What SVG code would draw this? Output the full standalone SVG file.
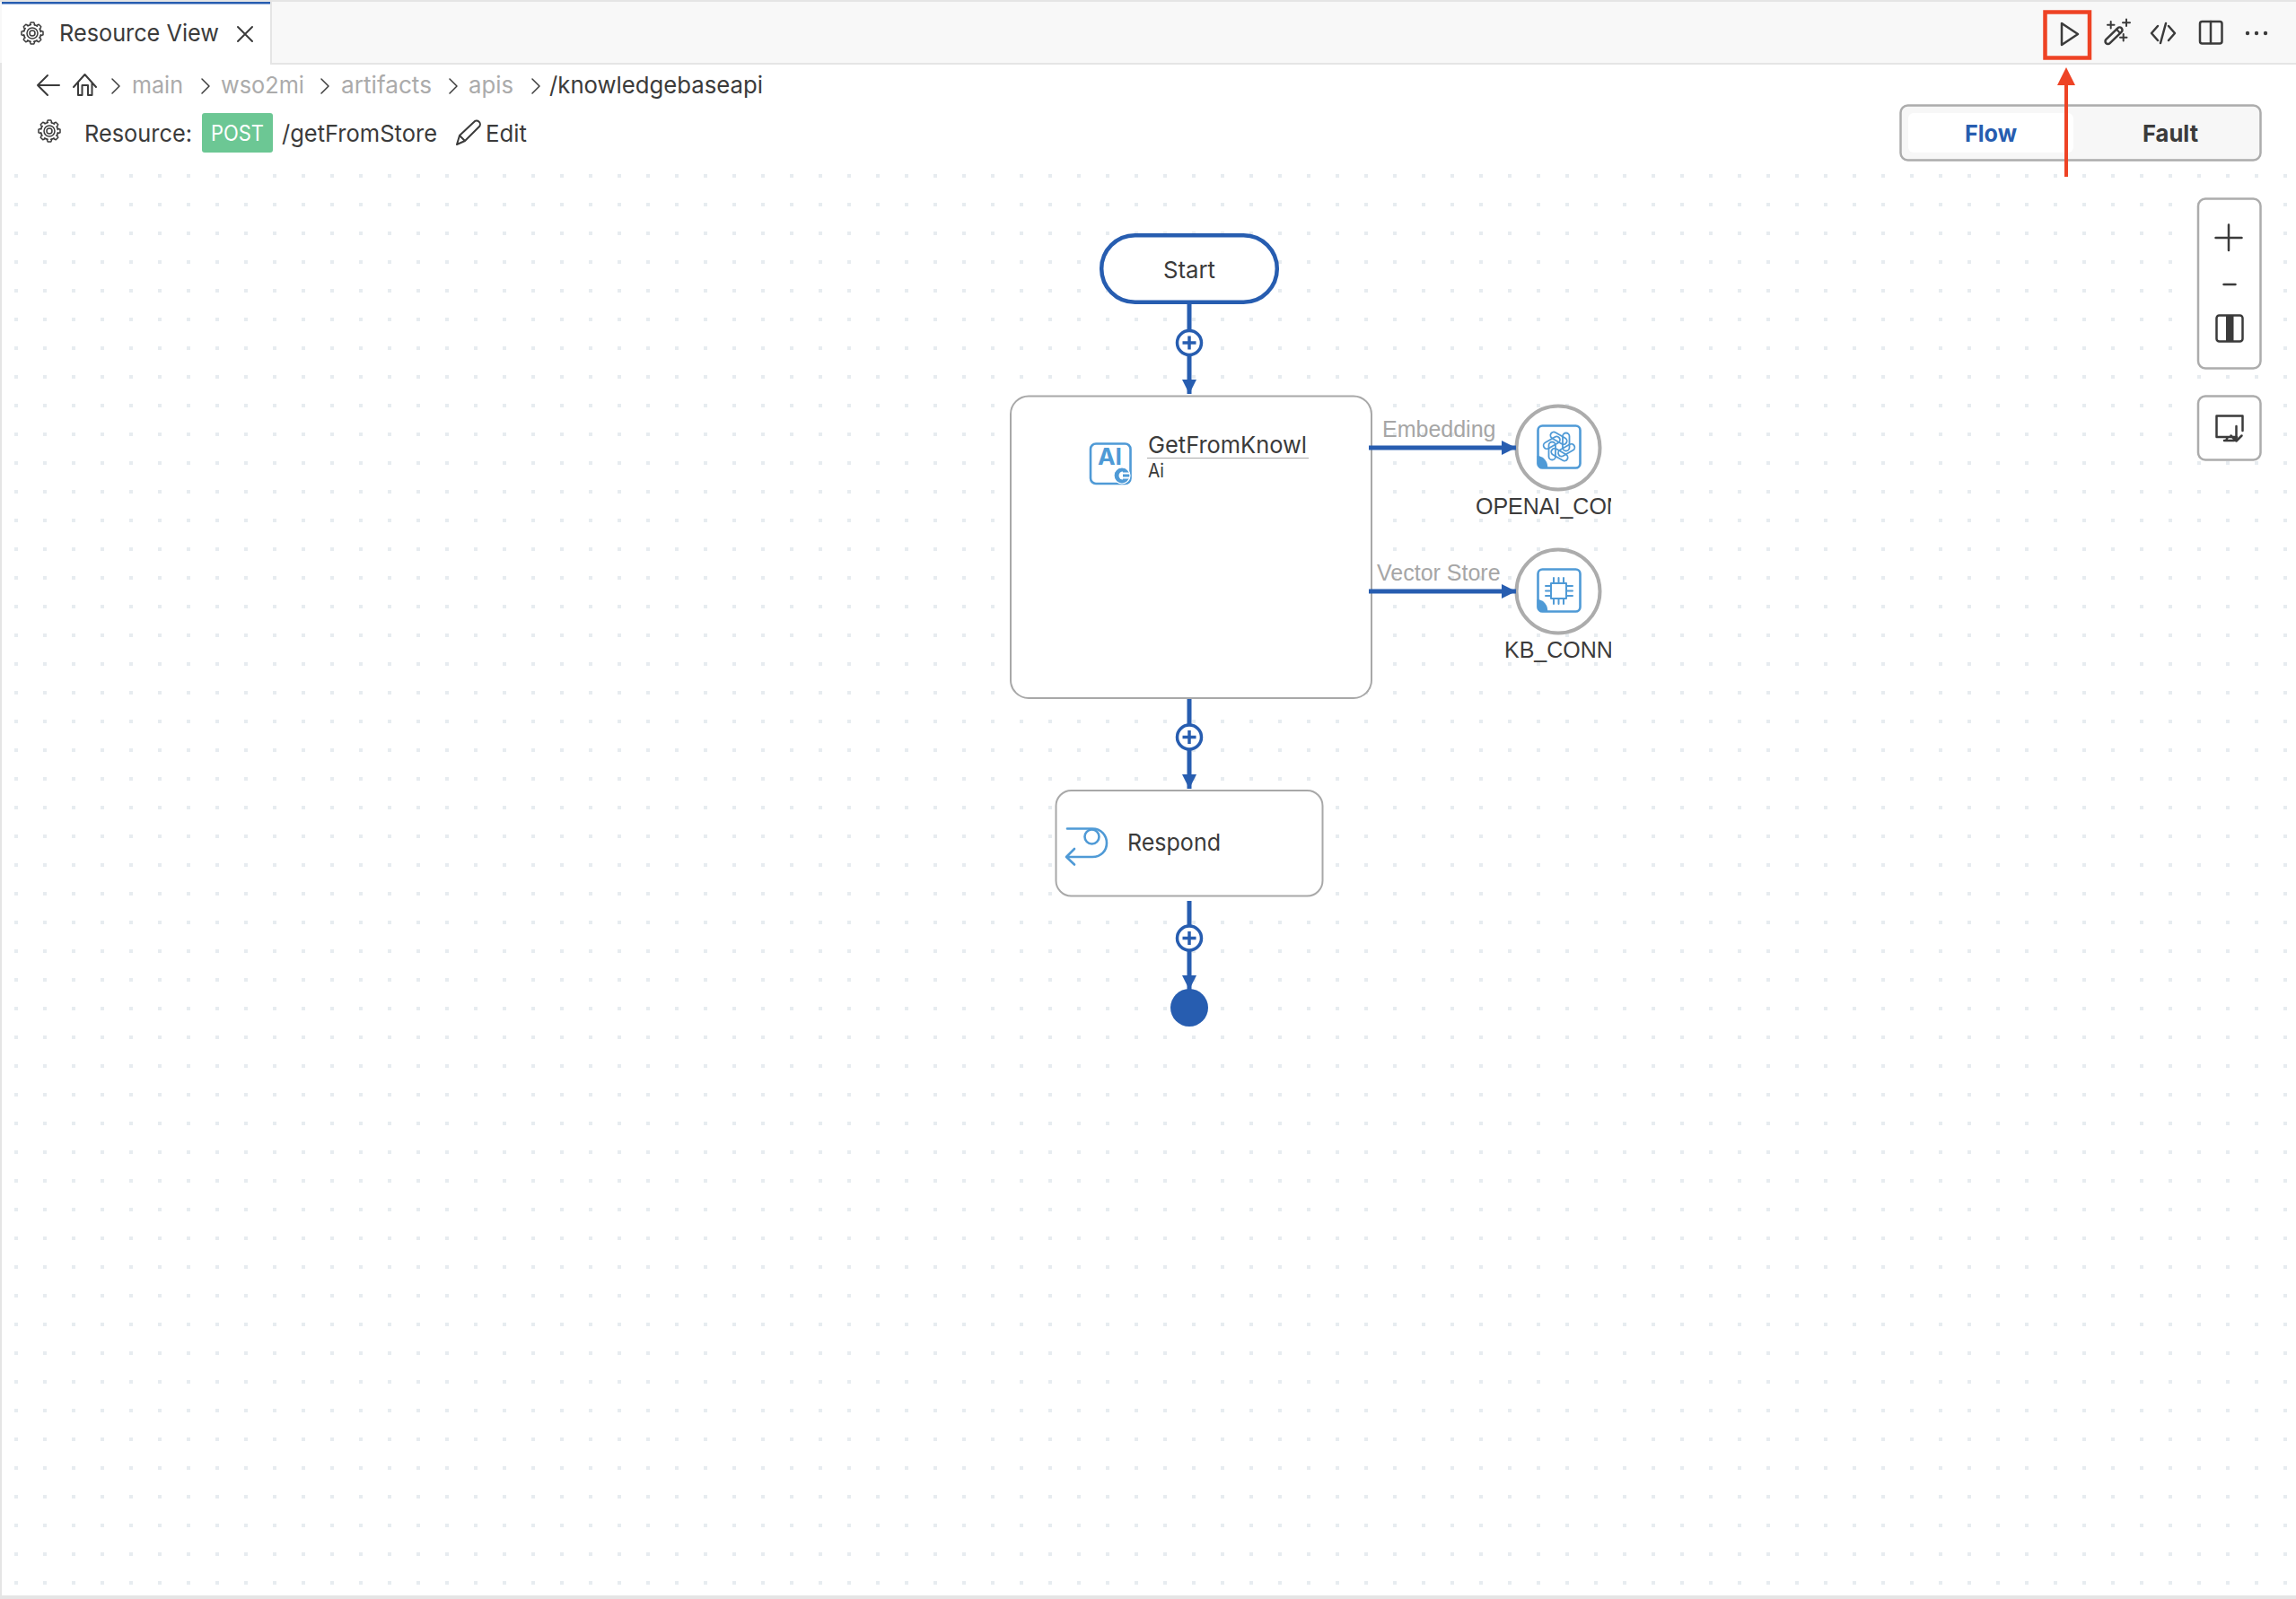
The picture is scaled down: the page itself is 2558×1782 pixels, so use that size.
<svg xmlns="http://www.w3.org/2000/svg" width="2558" height="1782" viewBox="0 0 2558 1782">
<style>
text{font-family:Inter,"Noto Sans",sans-serif;font-size:26px;fill:#3b3b3b}
.arial{font-family:"Liberation Sans",Arial,sans-serif;font-size:25px}
.crumb{fill:#ababab}
.edge{fill:#a6a6a6}
.bold{font-weight:700}
.ico{fill:none;stroke:#3b3b3b;stroke-width:2.5;stroke-linecap:round;stroke-linejoin:round}
.thin{stroke-width:1.5}
.med{stroke-width:2}
.blue{fill:none;stroke:#4f9ad6;stroke-width:2.6;stroke-linecap:round;stroke-linejoin:round}
.box{fill:#fff;stroke:#a8a8a8;stroke-width:2}
.panel{fill:#fff;stroke:#acacac;stroke-width:2.5}
.conn{fill:none;stroke:#275db0;stroke-width:5}
.plus{fill:#fff;stroke:#275db0;stroke-width:3.5}
.plusmark{fill:none;stroke:#275db0;stroke-width:3.5}
.ring{fill:#fff;stroke:#acacac;stroke-width:4}
</style>
<defs>
<pattern id="dots" x="16" y="2" width="32" height="32" patternUnits="userSpaceOnUse"><rect width="4" height="4" fill="#e7ecf0"/></pattern>
<marker id="ah" markerUnits="userSpaceOnUse" markerWidth="16" markerHeight="16" refX="16" refY="8" orient="auto"><path d="M0 0L16 8L0 16Z" fill="#275db0"/></marker>
<clipPath id="clipConn"><rect x="1630" y="540" width="165" height="210"/></clipPath>
<path id="tooth" class="ico thin" d="M-2.800-9.300L-1.800-12H1.800L2.800-9.300"/>
<g id="gear">
<circle r="9.500" class="ico thin" stroke-dasharray="3.700 3.760" stroke-dashoffset="5.600"/>
<use href="#tooth"/><use href="#tooth" transform="rotate(45)"/><use href="#tooth" transform="rotate(90)"/><use href="#tooth" transform="rotate(135)"/><use href="#tooth" transform="rotate(180)"/><use href="#tooth" transform="rotate(225)"/><use href="#tooth" transform="rotate(270)"/><use href="#tooth" transform="rotate(315)"/>
<circle r="6" class="ico thin"/><circle r="3" class="ico thin"/>
</g>
<path id="chev" class="ico thin" d="M-4-8L4 0L-4 8"/>
<rect id="petal" x="4" y="-15" width="7.500" height="20" rx="3.750"/>
</defs>

<rect width="2558" height="1782" fill="#fff"/>
<rect x="2" y="190" width="2556" height="1588" fill="url(#dots)"/>
<rect x="0" y="0" width="2" height="1782" fill="#e5e5e5"/>
<rect x="0" y="1778" width="2558" height="4" fill="#e5e5e5"/>

<g id="titlebar">
<rect x="0" y="0" width="2558" height="72" fill="#f8f8f8"/>
<rect x="0" y="0" width="2558" height="2" fill="#e5e5e5"/>
<rect x="0" y="70" width="2558" height="2" fill="#e5e5e5"/>
<rect x="2" y="2" width="299" height="70" fill="#fff"/>
<rect x="2" y="2" width="299" height="2.500" fill="#275db0"/>
<rect x="301" y="2" width="2" height="68" fill="#e5e5e5"/>
<use href="#gear" x="36" y="37"/>
<text x="66" y="46" textLength="178" lengthAdjust="spacingAndGlyphs">Resource View</text>
<path class="ico med" d="M265 30L281 46M281 30L265 46"/>
<path class="ico" d="M2297 26V50L2315 38Z"/>
<rect class="ico" x="-12" y="-3" width="24" height="6" rx="3" transform="translate(2355 39.700) rotate(-44)"/>
<path class="ico med" d="M2358 32.500L2362 37M2348 27.700H2355.500M2351.700 24V31.500M2365 25.300H2373M2369 21.500V29M2362 41.700H2369.500M2365.700 38V45.500"/>
<path class="ico" d="M2404 29L2397 37L2404 45M2416 29L2423 37L2416 45M2413 26L2407 48"/>
<rect class="ico" x="2451" y="24" width="24.500" height="24.500" rx="2.500"/>
<path class="ico" d="M2463 24V48"/>
<g fill="#3b3b3b"><circle cx="2504" cy="37" r="2.200"/><circle cx="2514" cy="37" r="2.200"/><circle cx="2524" cy="37" r="2.200"/></g>
</g>

<g id="breadcrumb">
<path class="ico med" d="M66 95H42M53 84L42 95L53 106"/>
<path class="ico med" d="M82 97L94.500 83L107 97M87 92V106H91.500V95H98V106H102.500V92"/>
<use href="#chev" x="129" y="96"/>
<text class="crumb" x="147" y="104" textLength="57" lengthAdjust="spacingAndGlyphs">main</text>
<use href="#chev" x="229" y="96"/>
<text class="crumb" x="246" y="104" textLength="93" lengthAdjust="spacingAndGlyphs">wso2mi</text>
<use href="#chev" x="362" y="96"/>
<text class="crumb" x="380" y="104" textLength="101" lengthAdjust="spacingAndGlyphs">artifacts</text>
<use href="#chev" x="505" y="96"/>
<text class="crumb" x="522" y="104" textLength="50" lengthAdjust="spacingAndGlyphs">apis</text>
<use href="#chev" x="597" y="96"/>
<text x="612" y="104" textLength="238" lengthAdjust="spacingAndGlyphs">/knowledgebaseapi</text>
</g>

<g id="resource-header">
<use href="#gear" x="55" y="146"/>
<text x="94" y="158" textLength="120" lengthAdjust="spacingAndGlyphs">Resource:</text>
<rect x="225" y="126" width="79" height="44" rx="3" fill="#6cc794"/>
<text x="235" y="157" textLength="59" lengthAdjust="spacingAndGlyphs" style="fill:#fff;font-size:24px">POST</text>
<text x="314" y="158" textLength="173" lengthAdjust="spacingAndGlyphs">/getFromStore</text>
<path class="ico med" d="M509 161L512 151L528 136A3 3 0 0 1 534 141L518 157ZM512 151L518 157"/>
<text x="541" y="158" textLength="46" lengthAdjust="spacingAndGlyphs">Edit</text>
</g>

<g id="view-toggle">
<rect x="2117.500" y="117.500" width="401" height="61" rx="8" fill="#f7f7f7" stroke="#acacac" stroke-width="2.500"/>
<rect x="2126" y="126" width="184" height="44" rx="6" fill="#fff"/>
<text class="bold" x="2189" y="158" textLength="58" lengthAdjust="spacingAndGlyphs" style="fill:#275db0">Flow</text>
<text class="bold" x="2387" y="158" textLength="62" lengthAdjust="spacingAndGlyphs">Fault</text>
</g>

<g id="zoom-controls">
<rect class="panel" x="2449" y="221.500" width="69.500" height="189" rx="8"/>
<path class="ico" d="M2483 250.500V279M2468.500 265H2497.500M2477.500 317H2490.500"/>
<rect class="ico" x="2469.500" y="351.500" width="29" height="29" rx="3"/>
<rect x="2480" y="351" width="8.500" height="30" fill="#3b3b3b"/>
<rect class="panel" x="2449" y="441.500" width="69.500" height="71" rx="8"/>
<path class="ico" d="M2492 487H2469.500V463.500H2498.500V480M2478 491H2489M2482 487L2480 491M2491.500 475V491.500M2485.500 485.500L2491.500 491.500L2497.500 485.500"/>
</g>

<g id="node-start">
<rect x="1227.200" y="262.200" width="195.600" height="74.600" rx="37.300" fill="#fff" stroke="#275db0" stroke-width="4.500"/>
<text x="1296" y="310" textLength="58" lengthAdjust="spacingAndGlyphs">Start</text>
</g>

<g id="node-ai">
<rect class="box" x="1126" y="441.500" width="402" height="336.500" rx="20"/>
<rect class="blue" x="1215" y="494.500" width="44.500" height="44.500" rx="6"/>
<text x="1223" y="518" textLength="27" lengthAdjust="spacingAndGlyphs" style="font-weight:700;fill:#4f9ad6">AI</text>
<circle cx="1250" cy="530" r="9" fill="#4f9ad6" stroke="#fff" stroke-width="1.200"/>
<path d="M1251 525.500A4.500 4.500 0 0 0 1251 534.500Z" fill="#fff"/>
<path d="M1250 527.500H1259M1250 532.500H1259" stroke="#fff" stroke-width="2"/>
<text x="1279" y="505" textLength="177" lengthAdjust="spacingAndGlyphs">GetFromKnowl</text>
<path d="M1278 510.500H1458" stroke="#a8a8a8" stroke-width="1.200"/>
<text x="1279" y="532" textLength="18" lengthAdjust="spacingAndGlyphs" style="font-size:21px">Ai</text>
</g>

<g id="edge-labels">
<text class="arial edge" x="1540" y="487">Embedding</text>
<text class="arial edge" x="1534" y="647">Vector Store</text>
</g>

<g id="node-openai">
<circle class="ring" cx="1736" cy="499" r="46.500"/>
<rect class="blue" x="1713.500" y="474.500" width="47" height="47" rx="5"/>
<path d="M1712.500 508A12 12 0 0 1 1724 522H1718A5.500 5.500 0 0 1 1712.500 516.500Z" fill="#4f9ad6"/>
<g class="blue" style="stroke-width:1.800" transform="translate(1737 497.500)">
<use href="#petal"/><use href="#petal" transform="rotate(60)"/><use href="#petal" transform="rotate(120)"/><use href="#petal" transform="rotate(180)"/><use href="#petal" transform="rotate(240)"/><use href="#petal" transform="rotate(300)"/>
</g>
<g clip-path="url(#clipConn)"><text class="arial" x="1644" y="573">OPENAI_CON</text></g>
</g>

<g id="node-kb">
<circle class="ring" cx="1736" cy="659" r="46.500"/>
<rect class="blue" x="1713.500" y="634.500" width="47" height="47" rx="5"/>
<path d="M1712.500 668A12 12 0 0 1 1724 682H1718A5.500 5.500 0 0 1 1712.500 676.500Z" fill="#4f9ad6"/>
<g class="blue" style="stroke-width:2">
<rect x="1728" y="650" width="17" height="17"/>
<path d="M1731 644V650M1736.500 644V650M1742 644V650M1731 667V673M1736.500 667V673M1742 667V673M1722 653H1728M1722 658.500H1728M1722 664H1728M1745 653H1752M1745 658.500H1752M1745 664H1752"/>
</g>
<g clip-path="url(#clipConn)"><text class="arial" x="1676" y="733">KB_CONN</text></g>
</g>

<g id="node-respond">
<rect class="box" x="1176.500" y="881" width="297" height="117.500" rx="17"/>
<path class="blue" d="M1189 923.500H1217C1227 923.500 1233 931 1233 939.500C1233 948 1227 955 1217 955H1188M1197 946L1188 955L1197 963.500"/>
<circle class="blue" cx="1216.500" cy="932.500" r="8"/>
<text x="1256" y="947.500" textLength="104" lengthAdjust="spacingAndGlyphs">Respond</text>
</g>

<g id="node-end"><circle cx="1325" cy="1123" r="21" fill="#275db0"/></g>

<g id="connectors">
<path class="conn" marker-end="url(#ah)" d="M1325 339V439"/>
<path class="conn" marker-end="url(#ah)" d="M1325 779V879"/>
<path class="conn" marker-end="url(#ah)" d="M1325 1004V1103"/>
<path class="conn" marker-end="url(#ah)" d="M1525 499H1689"/>
<path class="conn" marker-end="url(#ah)" d="M1525 659H1689"/>
</g>

<g id="add-1"><circle class="plus" cx="1325" cy="382" r="13.500"/><path class="plusmark" d="M1317.500 382H1332.500M1325 374.500V389.500"/></g>
<g id="add-2"><circle class="plus" cx="1325" cy="821.500" r="13.500"/><path class="plusmark" d="M1317.500 821.500H1332.500M1325 814V829"/></g>
<g id="add-3"><circle class="plus" cx="1325" cy="1045.500" r="13.500"/><path class="plusmark" d="M1317.500 1045.500H1332.500M1325 1038V1053"/></g>

<g id="annotation">
<rect x="2278.500" y="13.500" width="49.500" height="51" fill="none" stroke="#ee4325" stroke-width="4.500"/>
<path d="M2302 197V90" fill="none" stroke="#ee4325" stroke-width="4"/>
<path d="M2302 75L2312 95H2292Z" fill="#ee4325"/>
</g>
</svg>
